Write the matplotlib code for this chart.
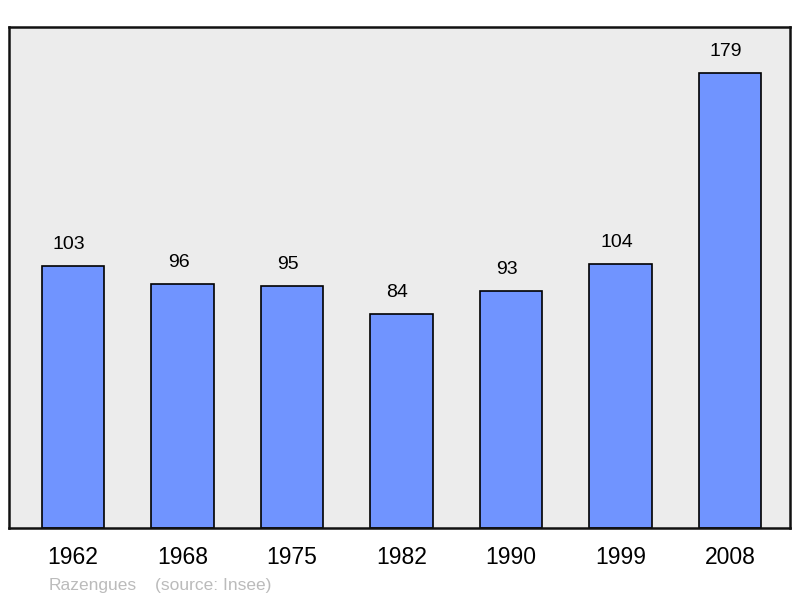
import matplotlib
matplotlib.use("Agg")
import matplotlib.pyplot as plt

years = ["1962", "1968", "1975", "1982", "1990", "1999", "2008"]
population = [103, 96, 95, 84, 93, 104, 179]
commune = "Razengues"
source = "(source: Insee)"

plt.rcParams['font.family'] = ['Liberation Sans', 'DejaVu Sans']

fig = plt.figure(figsize=(8, 5.98), dpi=100)
ax = fig.add_axes([9/800, 70/598, 781/800, 501/598])
ax.set_facecolor('#ececec')
x = list(range(len(years)))
ax.bar(x, population, width=0.574, color='#7094ff', edgecolor='black', linewidth=1.2, zorder=2)
for xi, v in zip(x, population):
    ax.annotate(str(v), (xi, v), xytext=(-4 if v < 100 else -4, 13), textcoords='offset pixels',
                ha='center', va='bottom', fontsize=14)
ax.set_xlim(-0.584, 6.548)
ax.set_ylim(0, 197)
ax.set_yticks([])
ax.set_xticks(x)
ax.set_xticklabels(years, fontsize=16.5)
ax.tick_params(axis='x', length=0, pad=13)
for s in ax.spines.values():
    s.set_linewidth(1.8)
    s.set_color('#111111')
fig.text(49/800, 1 - 590/598, commune, fontsize=12.5, color='#bbbbbb', ha='left', va='baseline')
fig.text(155/800, 1 - 590/598, source, fontsize=12.5, color='#bbbbbb', ha='left', va='baseline')
fig.savefig('out.png', dpi=100, facecolor='white')
